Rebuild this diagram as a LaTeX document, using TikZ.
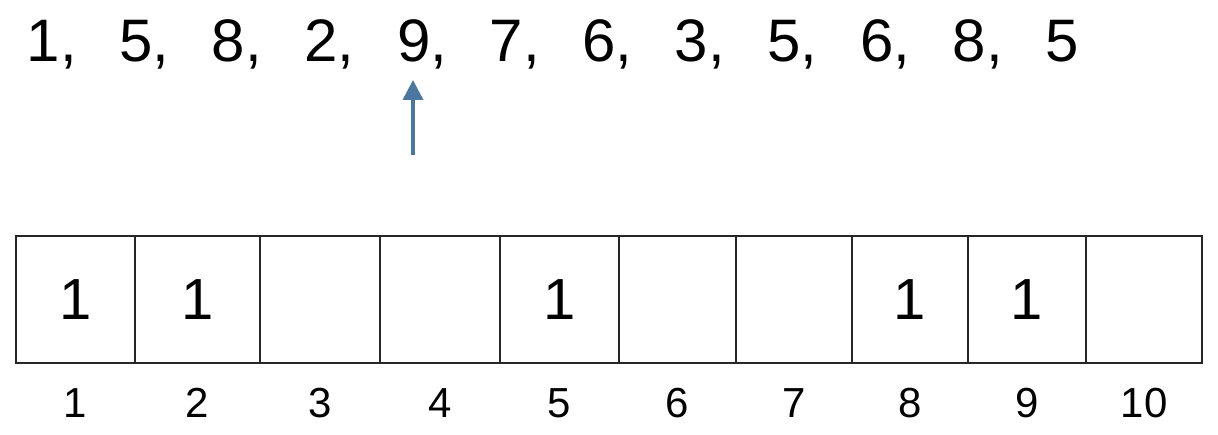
\documentclass[tikz,border=0pt]{standalone}
\usepackage{fontspec}
\setmainfont{Liberation Sans}
\usetikzlibrary{arrows.meta,positioning}

\definecolor{ptrblue}{RGB}{74,120,160}

\begin{document}
\begin{tikzpicture}[
  x=1pt,y=-1pt,
  seqnum/.style={anchor=base west,inner sep=0pt,
                 font=\fontsize{60}{61}\selectfont},
  cell/.style={draw=black!85,line width=1.1pt,inner sep=0pt,outer sep=0pt,
               minimum height=127pt,font=\fontsize{58}{59}\selectfont},
  idx/.style={inner sep=0pt,font=\fontsize{42}{43}\selectfont},
  ptr/.style={-{Triangle[width=20pt,length=20pt]},line width=3.5pt,draw=ptrblue},
]
\useasboundingbox (0,0) rectangle (1218,435);

% the input stream
\foreach \v [count=\i] in {1,5,8,2,9,7,6,3,5,6,8,5}
  \node[seqnum] (seq\i) at ({26.5+92.6*(\i-1)},62) {\v\ifnum\i<12,\fi};

% pointer to the current element
\coordinate (ptrtail) at (413,155);
\coordinate (ptrhead) at (413,80);
\draw[ptr] (ptrtail) -- (ptrhead);

% the bit array, with its slot numbers underneath
\foreach \c/\w/\b [count=\i] in {75.5/119/1,197.5/125/1,320/120/,440/120/,
                                 559.5/119/1,677.5/117/,794/116/,910/116/1,
                                 1027/118/1,1144/116/}
{
  \node[cell,minimum width=\w pt] (cell\i) at (\c,299.5) {\b};
  \node[idx,below=25pt of cell\i] (idx\i) {\i};
}

\end{tikzpicture}
\end{document}
